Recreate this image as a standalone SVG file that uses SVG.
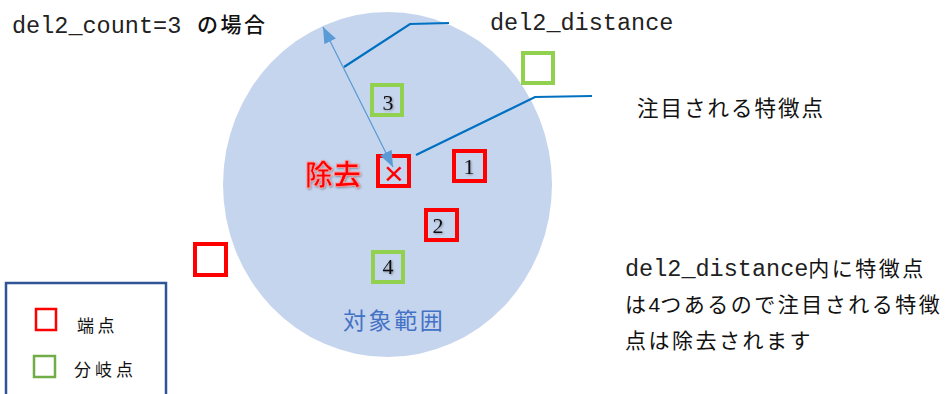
<svg xmlns="http://www.w3.org/2000/svg" width="949" height="394" viewBox="0 0 949 394">
<style>
.mono{font-family:"Liberation Mono","DejaVu Sans Mono",monospace;font-size:23.5px;fill:#222}
.jp{font-family:"Noto Sans CJK JP","Noto Sans",sans-serif;fill:#111}
.num{font-family:"Liberation Serif","Times New Roman",serif;font-size:22px;fill:#111;text-anchor:middle}
.red{fill:none;stroke:#ff0000;stroke-width:4}
.grn{fill:none;stroke:#92d050;stroke-width:4}
.lead{fill:none;stroke:#0070c0;stroke-width:2.2}
</style>
<defs>
<marker id="ah" markerUnits="userSpaceOnUse" markerWidth="17" markerHeight="14" refX="16" refY="6.5" orient="auto-start-reverse">
<path d="M0,0 L16,6.5 L0,13 z" fill="#5b9bd5"/>
</marker>
<filter id="sh" x="-20%" y="-20%" width="140%" height="140%">
<feDropShadow dx="1" dy="1" stdDeviation="0.8" flood-color="#000" flood-opacity="0.35"/>
</filter>
</defs>
<rect width="949" height="394" fill="#ffffff"/>
<g id="range">
<ellipse cx="387.5" cy="184.5" rx="164.5" ry="172.5" fill="#c6d5ee"/>
<text x="343" y="329" class="jp" font-size="23" letter-spacing="2.6" fill="#4472c4" style="fill:#4472c4">対象範囲</text>
</g>
<g id="title">
<text x="12" y="33" class="mono">del2_count=3</text>
<text x="197" y="32" class="jp" font-size="21" font-weight="500" letter-spacing="2.5">の場合</text>
</g>
<g id="label-distance">
<text x="490" y="30" class="mono">del2_distance</text>
</g>
<g id="label-target">
<text x="637" y="116" class="jp" font-size="21.5" letter-spacing="2">注目される特徴点</text>
</g>
<g id="note">
<text x="625" y="276" class="mono">del2_distance<tspan class="jp" font-size="21" letter-spacing="2.5">内に特徴点</tspan></text>
<text x="625" y="312" class="jp" font-size="21" letter-spacing="2.5">は<tspan font-family="Liberation Sans, sans-serif" letter-spacing="0">4</tspan>つあるので注目される特徴</text>
<text x="625" y="348" class="jp" font-size="21" letter-spacing="2.5">点は除去されます</text>
</g>
<g id="node-3"><rect x="372" y="85" width="30" height="30" class="grn"/><text x="388" y="110" class="num" filter="url(#sh)">3</text></g>
<g id="node-green-out"><rect x="523" y="53" width="30" height="30" class="grn"/></g>
<g id="node-removed">
<rect x="378" y="156" width="31" height="30" class="red"/>
<text x="394" y="185" font-family="Liberation Sans,Arial,sans-serif" font-size="34" fill="#ff0000" text-anchor="middle">×</text>
<text x="305" y="185" class="jp" font-size="28" font-weight="bold" fill="#ff0000" style="fill:#ff0000" stroke="#ff9a9a" stroke-width="0.8" filter="url(#sh)">除去</text>
</g>
<g id="node-1"><rect x="454" y="151" width="31" height="30" class="red"/><text x="469" y="174" class="num" filter="url(#sh)">1</text></g>
<g id="node-2"><rect x="426" y="210" width="31" height="30" class="red"/><text x="438" y="233" class="num" filter="url(#sh)">2</text></g>
<g id="node-4"><rect x="373" y="252" width="30" height="30" class="grn"/><text x="388" y="274" class="num" filter="url(#sh)">4</text></g>
<g id="node-red-out"><rect x="195" y="244" width="31" height="31" class="red"/></g>
<g id="legend">
<rect x="6" y="283" width="160" height="120" fill="none" stroke="#2f5597" stroke-width="2.5"/>
<rect x="36" y="309" width="20" height="21" fill="none" stroke="#ff0000" stroke-width="2.5"/>
<text x="77" y="332" class="jp" font-size="17" letter-spacing="3.5">端点</text>
<rect x="34" y="356" width="21" height="21" fill="none" stroke="#70ad47" stroke-width="2.5"/>
<text x="74" y="376" class="jp" font-size="17" letter-spacing="4">分岐点</text>
</g>
<g id="connectors">
<line x1="393" y1="167" x2="323" y2="27" stroke="#5b9bd5" stroke-width="1.3" marker-start="url(#ah)" marker-end="url(#ah)"/>
<polyline points="344,67 410,24 449,23" class="lead"/>
<polyline points="416,155 535,97 592,96" class="lead"/>
</g>
</svg>
